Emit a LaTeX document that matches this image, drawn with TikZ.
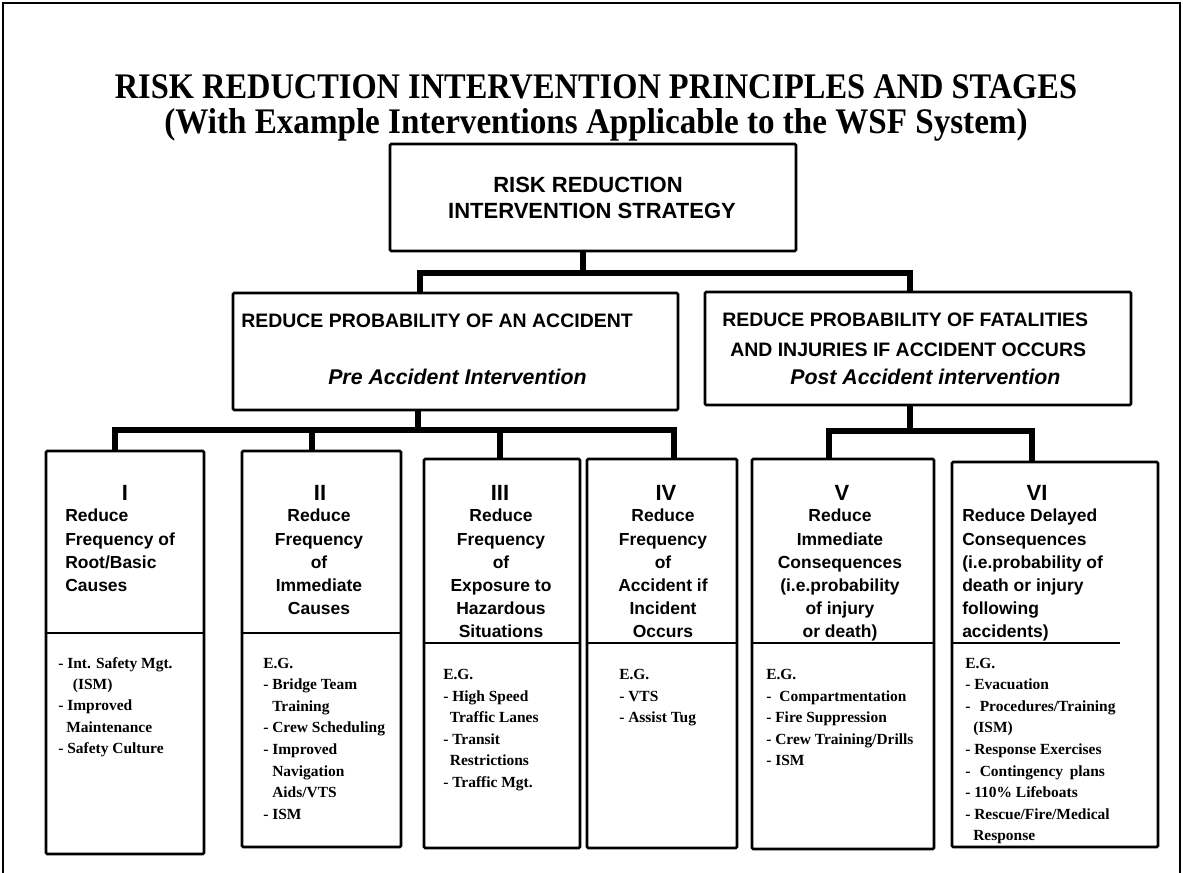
\documentclass[tikz,border=0pt]{standalone}
\usepackage{graphicx}
\usepackage{fontspec}
\setmainfont{Liberation Serif}
\setsansfont{Liberation Sans}
\usetikzlibrary{calc}
\begin{document}
\begin{tikzpicture}[x=0.75pt,y=-0.75pt,
  box/.style={draw, line width=2pt, rounded corners=1pt, inner sep=0pt},
  conn/.style={line width=3.8pt, line join=miter},
  divl/.style={line width=1.6pt},
  ttl/.style={font=\fontsize{27}{32}\selectfont\bfseries, inner sep=0pt, anchor=base},
  tb/.style={font=\sffamily\bfseries\fontsize{16.5}{19}\selectfont, inner sep=0pt, anchor=base},
  mid/.style={font=\sffamily\bfseries\fontsize{14.6}{17}\selectfont, inner sep=0pt, anchor=base west},
  midit/.style={font=\sffamily\bfseries\itshape\fontsize{16}{19}\selectfont, inner sep=0pt, anchor=base west},
  num/.style={font=\sffamily\bfseries\fontsize{16.5}{18}\selectfont, inner sep=0pt, anchor=base},
  hd/.style={font=\sffamily\bfseries\fontsize{13.1}{15}\selectfont, inner sep=0pt, anchor=base},
  hdl/.style={hd, anchor=base west},
  lst/.style={font=\bfseries\fontsize{11.6}{14}\selectfont, inner sep=0pt, anchor=base west},
]
\useasboundingbox (0,0) rectangle (1183,873);
% frame (open at the bottom)
\draw[line width=2.2pt] (3,873) -- (3,3) -- (1180,3) -- (1180,873);

% title
\node[ttl] (h1) at (596,99) {\scalebox{0.9}[1]{RISK REDUCTION INTERVENTION PRINCIPLES AND STAGES}};
\node[ttl] (h2) at (596,134) {\scalebox{0.92}[1]{(With Example Interventions Applicable to the WSF System)}};

% boxes
\node[box, minimum width=406*0.75pt, minimum height=107*0.75pt] (top) at (593,197.5) {};
\node[box, minimum width=445*0.75pt, minimum height=117*0.75pt] (midL) at (455.5,351.5) {};
\node[box, minimum width=426*0.75pt, minimum height=113*0.75pt] (midR) at (918,348.5) {};
\node[box, minimum width=158*0.75pt, minimum height=403*0.75pt] (b1) at (125,652.5) {};
\node[box, minimum width=159*0.75pt, minimum height=396*0.75pt] (b2) at (321.5,649) {};
\node[box, minimum width=156*0.75pt, minimum height=389*0.75pt] (b3) at (502,653.5) {};
\node[box, minimum width=150*0.75pt, minimum height=389*0.75pt] (b4) at (662,653.5) {};
\node[box, minimum width=182*0.75pt, minimum height=390*0.75pt] (b5) at (843,654) {};
\node[box, minimum width=206*0.75pt, minimum height=385*0.75pt] (b6) at (1055,654.5) {};

% connectors
\coordinate (ja) at (583,273);
\coordinate (jl) at (420,273);
\coordinate (jr) at (910,273);
\draw[conn] (top.south -| ja) -- (ja);
\draw[conn] (jl |- midL.north) -- (jl) -- (jr) -- (jr |- midR.north);

\coordinate (kl) at (418,430);
\coordinate (k1) at (115,430);
\coordinate (k2) at (312,430);
\coordinate (k3) at (500,430);
\coordinate (k4) at (674,430);
\draw[conn] (midL.south -| kl) -- (kl);
\draw[conn] (k1 |- b1.north) -- (k1) -- (k4) -- (k4 |- b4.north);
\draw[conn] (k2) -- (k2 |- b2.north);
\draw[conn] (k3) -- (k3 |- b3.north);

\coordinate (m0) at (910,431);
\coordinate (m5) at (829,431);
\coordinate (m6) at (1032,431);
\draw[conn] (midR.south -| m0) -- (m0);
\draw[conn] (m5 |- b5.north) -- (m5) -- (m6) -- (m6 |- b6.north);

% dividers
\coordinate (dva) at (0,633);
\coordinate (dvb) at (0,643);
\coordinate (dv6e) at (1120,643);
\draw[divl] (b1.west |- dva) -- (b1.east |- dva);
\draw[divl] (b2.west |- dva) -- (b2.east |- dva);
\draw[divl] (b3.west |- dvb) -- (b3.east |- dvb);
\draw[divl] (b4.west |- dvb) -- (b4.east |- dvb);
\draw[divl] (b5.west |- dvb) -- (b5.east |- dvb);
\draw[divl] (b6.west |- dvb) -- (dv6e);

% top box text
\node[tb] (t1) at (588,193) {RISK REDUCTION};
\node[tb] (t2) at (592,219) {INTERVENTION STRATEGY};

% middle box texts
\node[mid] (ml1) at (241,328) {REDUCE PROBABILITY OF AN ACCIDENT};
\node[midit] (ml2) at (328,385) {Pre Accident Intervention};
\node[mid] (mr1) at (722,327) {REDUCE PROBABILITY OF FATALITIES};
\node[mid] (mr2) at (730,357) {AND INJURIES IF ACCIDENT OCCURS};
\node[midit] (mr3) at (790,385) {Post Accident intervention};

% numerals
\node[num] (n1) at (125,501) {I};
\node[num] (n2) at (320,501) {II};
\node[num] (n3) at (500,501) {III};
\node[num] (n4) at (666,501) {IV};
\node[num] (n5) at (842,501) {V};
\node[num] (n6) at (1037,501) {VI};

% headings
\foreach \t [count=\i] in {Reduce,Frequency of,Root/Basic,Causes}
  \node[hdl] (h1-\i) at (65,{522+(\i-1)*23.2}) {\t};
\foreach \t [count=\i] in {Reduce,Frequency,of,Immediate,Causes}
  \node[hd] (h2-\i) at (319,{522+(\i-1)*23.2}) {\t};
\foreach \t [count=\i] in {Reduce,Frequency,of,Exposure to,Hazardous,Situations}
  \node[hd] (h3-\i) at (501,{522+(\i-1)*23.2}) {\t};
\foreach \t [count=\i] in {Reduce,Frequency,of,Accident if,Incident,Occurs}
  \node[hd] (h4-\i) at (663,{522+(\i-1)*23.2}) {\t};
\foreach \t [count=\i] in {Reduce,Immediate,Consequences,{(i.e.probability},of injury,or death)}
  \node[hd] (h5-\i) at (840,{522+(\i-1)*23.2}) {\t};
\foreach \t [count=\i] in {Reduce Delayed,Consequences,{(i.e.probability of},death or injury,following,accidents)}
  \node[hdl] (h6-\i) at (962,{522+(\i-1)*23.2}) {\t};

% example lists
\foreach \t [count=\i] in {{- Int. Safety Mgt.},{\hspace*{11pt}(ISM)},{- Improved},{\hspace*{6pt}Maintenance},{- Safety Culture}}
  \node[lst] (l1-\i) at (58,{668+(\i-1)*21.4}) {\t};
\foreach \t [count=\i] in {{E.G.},{- Bridge Team},{\hspace*{6.75pt}Training},{- Crew Scheduling},{- Improved},{\hspace*{6.75pt}Navigation},{\hspace*{6.75pt}Aids/VTS},{- ISM}}
  \node[lst] (l2-\i) at (263,{668+(\i-1)*21.6}) {\t};
\foreach \t [count=\i] in {{E.G.},{- High Speed},{\hspace*{5pt}Traffic Lanes},{- Transit},{\hspace*{5pt}Restrictions},{- Traffic Mgt.}}
  \node[lst] (l3-\i) at (443,{680+(\i-1)*21.4}) {\t};
\foreach \t [count=\i] in {{E.G.},{- VTS},{- Assist Tug}}
  \node[lst] (l4-\i) at (619,{680+(\i-1)*21.4}) {\t};
\foreach \t [count=\i] in {{E.G.},{-\hspace*{6pt}Compartmentation},{- Fire Suppression},{- Crew Training/Drills},{- ISM}}
  \node[lst] (l5-\i) at (766,{680+(\i-1)*21.4}) {\t};
\foreach \t [count=\i] in {{E.G.},{- Evacuation},{-\hspace*{7pt}Procedures/Training},{\hspace*{6pt}(ISM)},{- Response Exercises},{-\hspace*{7pt}Contingency\hspace*{5pt}plans},{- 110\% Lifeboats},{- Rescue/Fire/Medical},{\hspace*{6pt}Response}}
  \node[lst] (l6-\i) at (965,{668+(\i-1)*21.6}) {\t};
\end{tikzpicture}
\end{document}
